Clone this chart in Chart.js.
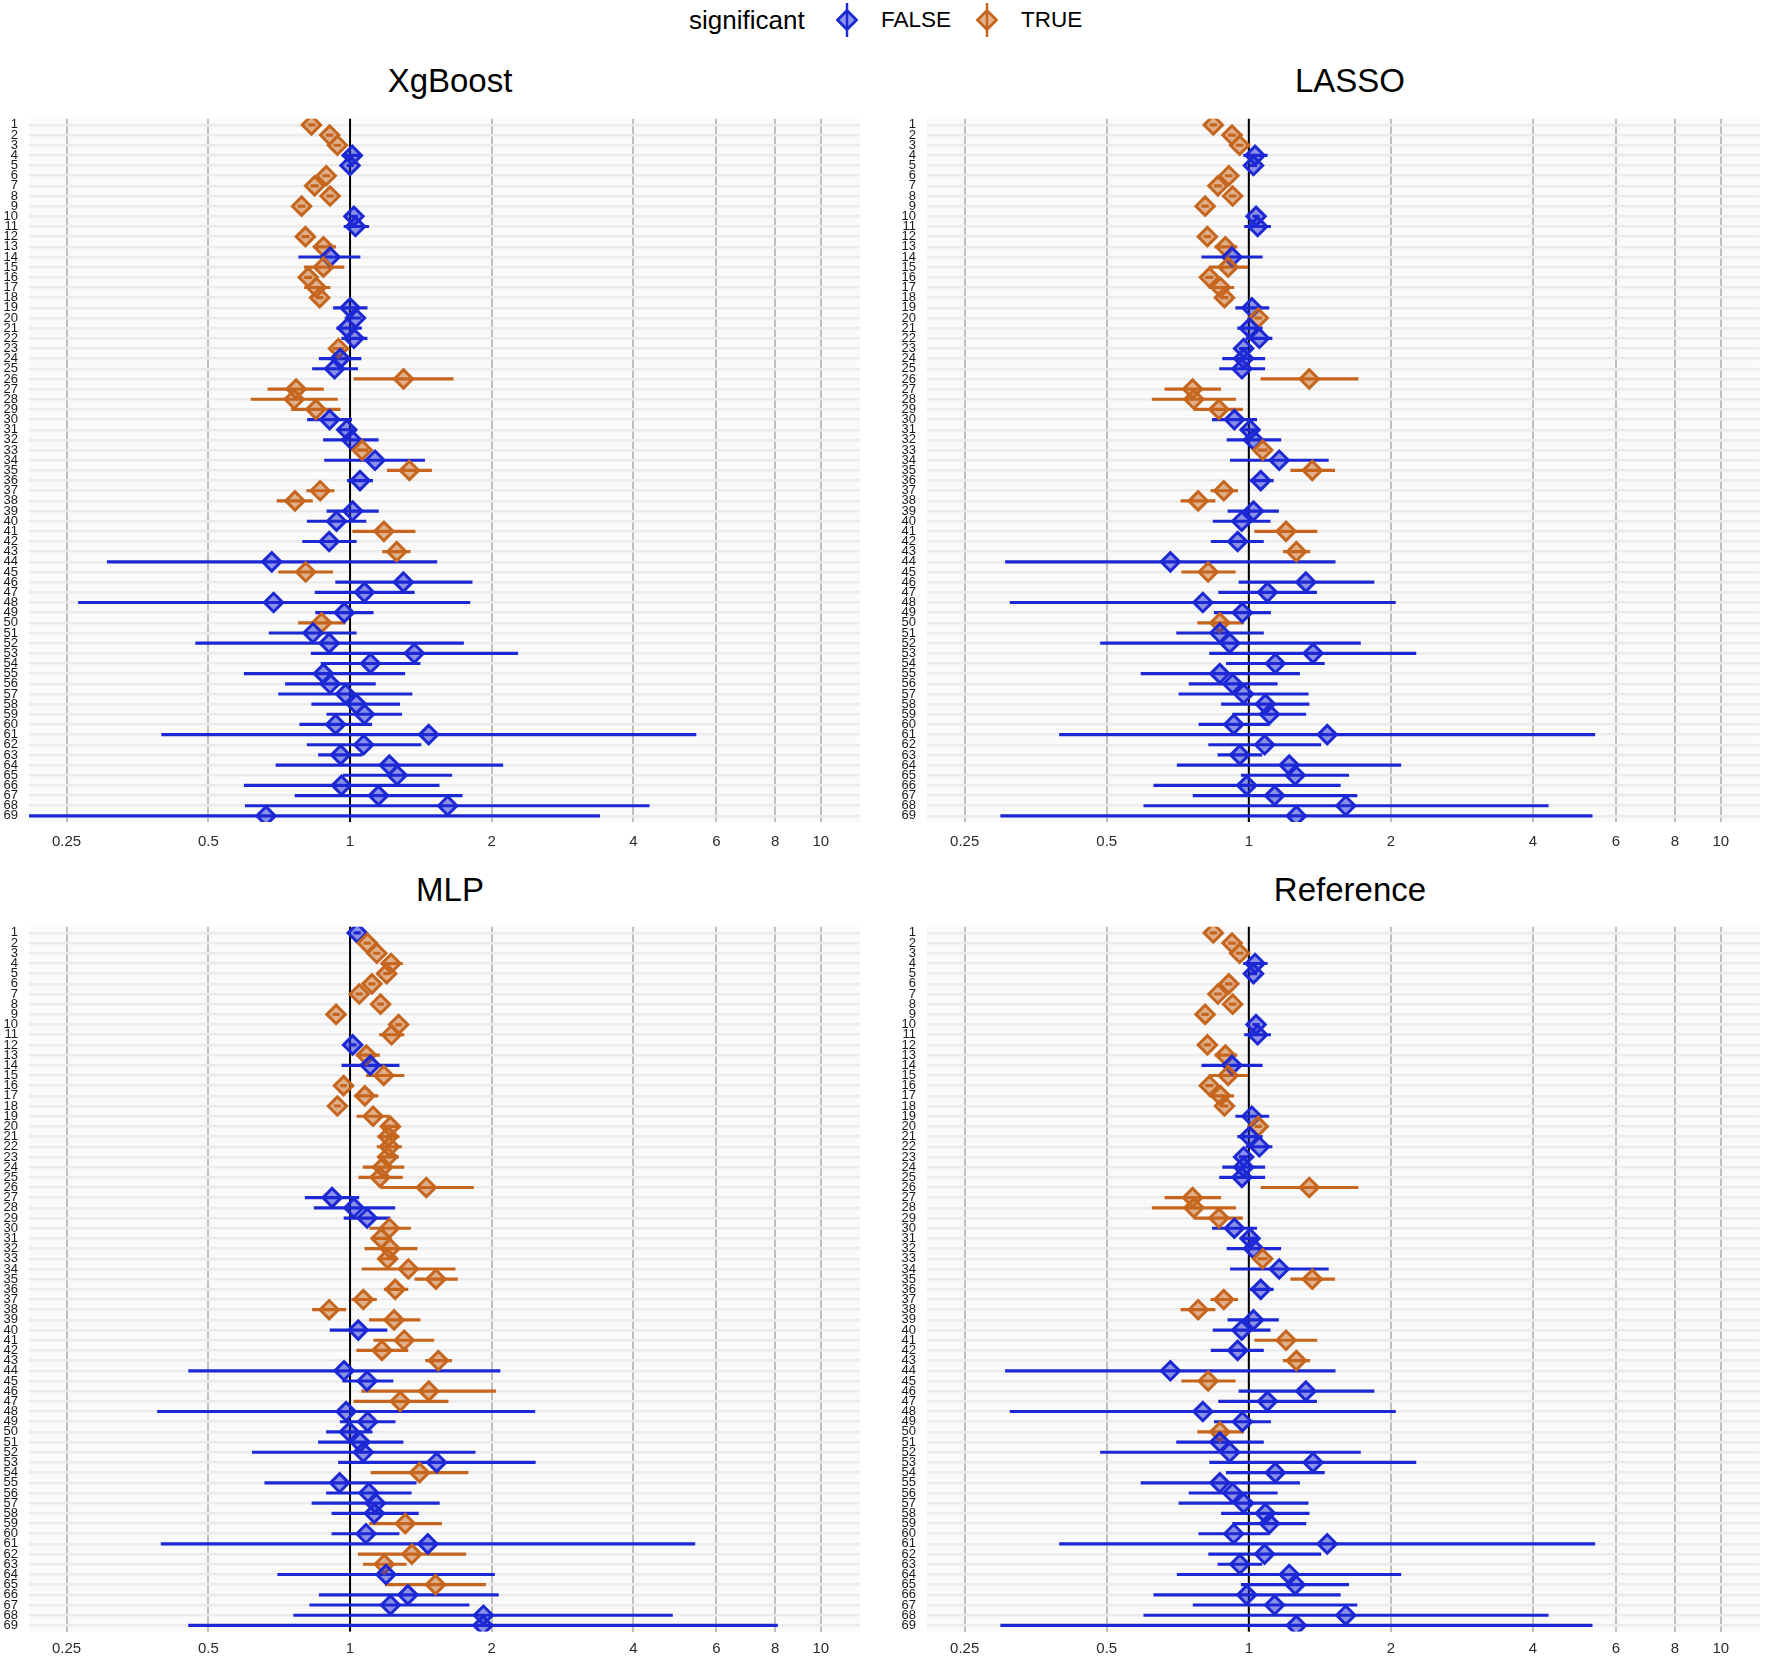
<!DOCTYPE html>
<html>
<head>
<meta charset="utf-8">
<script src="https://cdn.jsdelivr.net/npm/chart.js@4.4.1/dist/chart.umd.min.js"></script>
<style>
  html, body { margin: 0; padding: 0; background: #fff; }
  body { width: 1772px; height: 1658px; position: relative; overflow: hidden; font-family: "Liberation Sans", Arial, sans-serif; color: #000; }
  canvas { position: absolute; }
  .title { position: absolute; font-size: 33px; transform: translate(-50%, -50%); white-space: nowrap; }
  .leg { position: absolute; top: 20px; transform: translateY(-50%); white-space: nowrap; }
  .sym { position: absolute; top: 2px; }
</style>
</head>
<body>

<div class="leg" style="left:689px;font-size:26px;">significant</div>
<svg class="sym" style="left:836px" width="22" height="36" viewBox="0 0 22 36">
  <line x1="11" y1="1" x2="11" y2="35" stroke="rgb(28,40,212)" stroke-width="2.5"/>
  <path d="M1.5 18 L11 8.5 L20.5 18 L11 27.5 Z" fill="rgba(28,40,212,0.5)" stroke="rgb(28,40,212)" stroke-width="2.8"/>
</svg>
<div class="leg" style="left:881px;font-size:22.5px;">FALSE</div>
<svg class="sym" style="left:976px" width="22" height="36" viewBox="0 0 22 36">
  <line x1="11" y1="1" x2="11" y2="35" stroke="rgb(198,102,30)" stroke-width="2.5"/>
  <path d="M1.5 18 L11 8.5 L20.5 18 L11 27.5 Z" fill="rgba(198,102,30,0.5)" stroke="rgb(198,102,30)" stroke-width="2.8"/>
</svg>
<div class="leg" style="left:1021px;font-size:22.5px;">TRUE</div>

<div class="title" style="left:450px;top:81px;">XgBoost</div>
<div class="title" style="left:1350px;top:81px;">LASSO</div>
<div class="title" style="left:450px;top:890px;">MLP</div>
<div class="title" style="left:1350px;top:890px;">Reference</div>

<canvas id="xgb" width="872" height="760" style="left:0;top:100px;"></canvas>
<canvas id="lasso" width="874" height="760" style="left:898px;top:100px;"></canvas>
<canvas id="mlp" width="872" height="750" style="left:0;top:908px;"></canvas>
<canvas id="ref" width="874" height="750" style="left:898px;top:908px;"></canvas>

<script>
// x axis (odds ratio, log scale)
const xTicks = [0.25, 0.5, 1, 2, 4, 6, 8, 10];
const xTickLabels = ['0.25', '0.5', '1', '2', '4', '6', '8', '10'];
const xMin = 0.208, xMax = 12.1;

// rows 1..69
const rowLabels = [];
for (let i = 1; i <= 69; i++) rowLabels.push(i);

// XgBoost
const xgbEst = [0.828,0.905,0.940,1.011,1.000,0.890,0.841,0.907,0.789,1.019,1.027,0.804,0.878,0.907,0.878,0.815,0.848,0.862,1.000,1.027,
  0.987,1.019,0.945,0.953,0.927,1.299,0.768,0.761,0.846,0.905,0.984,1.008,1.061,1.130,1.337,1.050,0.864,0.764,1.013,0.936,
  1.180,0.903,1.256,0.682,0.805,1.298,1.073,0.688,0.972,0.870,0.834,0.903,1.369,1.105,0.878,0.907,0.978,1.031,1.073,0.932,
  1.469,1.069,0.955,1.212,1.259,0.959,1.149,1.612,0.663];
const xgbLow = [0.815,0.890,0.925,0.965,0.985,0.875,0.826,0.892,0.776,1.000,0.971,0.790,0.837,0.778,0.800,0.800,0.800,0.848,0.922,1.000,
  0.937,0.960,0.920,0.860,0.832,1.019,0.669,0.616,0.751,0.812,0.945,0.878,1.035,0.883,1.200,0.987,0.809,0.700,0.893,0.811,
  1.013,0.793,1.173,0.305,0.705,0.932,0.843,0.265,0.845,0.777,0.673,0.470,0.827,0.868,0.596,0.729,0.705,0.829,0.893,0.782,
  0.398,0.811,0.857,0.696,0.967,0.596,0.764,0.599,0.208];
const xgbHigh = [0.842,0.920,0.955,1.046,1.015,0.905,0.856,0.922,0.802,1.038,1.096,0.818,0.932,1.050,0.971,0.830,0.907,0.876,1.087,1.055,
  1.058,1.087,0.970,1.055,1.038,1.656,0.878,0.940,0.953,1.008,1.033,1.148,1.090,1.440,1.490,1.117,0.925,0.832,1.149,1.081,
  1.375,1.031,1.342,1.529,0.919,1.817,1.369,1.797,1.120,0.976,1.031,1.742,2.271,1.409,1.307,1.132,1.354,1.275,1.287,1.112,
  5.430,1.415,1.061,2.111,1.645,1.546,1.730,4.320,3.390];
const xgbSig = [1,1,1,0,0,1,1,1,1,0,0,1,1,0,1,1,1,1,0,0, 0,0,1,0,0,1,1,1,1,0,0,0,1,0,1,0,1,1,0,0,
  1,0,1,0,1,0,0,0,0,1,0,0,0,0,0,0,0,0,0,0, 0,0,0,0,0,0,0,0,0];

// LASSO
const lassoEst = [0.841,0.921,0.956,1.031,1.023,0.907,0.860,0.924,0.808,1.036,1.044,0.817,0.892,0.921,0.904,0.825,0.871,0.888,1.015,1.047,
  1.003,1.053,0.975,0.975,0.967,1.343,0.760,0.765,0.864,0.932,1.006,1.023,1.070,1.160,1.363,1.060,0.885,0.781,1.023,0.966,
  1.199,0.947,1.261,0.682,0.820,1.321,1.095,0.799,0.969,0.868,0.868,0.911,1.368,1.138,0.868,0.924,0.975,1.084,1.106,0.929,
  1.466,1.080,0.957,1.218,1.254,0.990,1.134,1.605,1.261];
const lassoLow = [0.828,0.906,0.940,0.975,1.005,0.892,0.845,0.909,0.795,1.020,0.979,0.804,0.848,0.795,0.824,0.810,0.824,0.873,0.938,1.030,
  0.947,0.986,0.955,0.880,0.867,1.061,0.664,0.624,0.766,0.837,0.962,0.899,1.045,0.914,1.227,1.004,0.831,0.718,0.903,0.840,
  1.029,0.832,1.183,0.305,0.721,0.953,0.863,0.312,0.845,0.779,0.703,0.485,0.826,0.896,0.591,0.747,0.711,0.875,0.924,0.784,
  0.397,0.822,0.860,0.705,0.964,0.629,0.762,0.599,0.298];
const lassoHigh = [0.854,0.936,0.972,1.094,1.040,0.922,0.875,0.939,0.821,1.052,1.112,0.830,0.944,1.068,0.995,0.840,0.929,0.903,1.103,1.064,
  1.068,1.120,0.995,1.081,1.081,1.704,0.872,0.938,0.970,1.039,1.052,1.169,1.095,1.474,1.520,1.127,0.947,0.848,1.156,1.110,
  1.394,1.074,1.347,1.524,0.936,1.842,1.392,2.045,1.112,0.975,1.074,1.724,2.260,1.446,1.281,1.149,1.336,1.342,1.321,1.106,
  5.410,1.421,1.066,2.100,1.628,1.563,1.695,4.310,5.340];
const lassoSig = [1,1,1,0,0,1,1,1,1,0,0,1,1,0,1,1,1,1,0,1, 0,0,0,0,0,1,1,1,1,0,0,0,1,0,1,0,1,1,0,0,
  1,0,1,0,1,0,0,0,0,1,0,0,0,0,0,0,0,0,0,0, 0,0,0,0,0,0,0,0,0];

// MLP
const mlpEst = [1.036,1.088,1.140,1.222,1.196,1.113,1.046,1.161,0.934,1.268,1.225,1.013,1.083,1.104,1.179,0.969,1.075,0.940,1.119,1.218,
  1.206,1.212,1.202,1.173,1.158,1.452,0.916,1.019,1.087,1.212,1.164,1.216,1.202,1.330,1.522,1.247,1.067,0.903,1.240,1.041,
  1.303,1.169,1.540,0.971,1.087,1.470,1.278,0.981,1.090,0.997,1.050,1.067,1.527,1.405,0.950,1.096,1.132,1.126,1.310,1.081,
  1.463,1.353,1.182,1.192,1.519,1.327,1.218,1.920,1.916];
const mlpLow = [1.020,1.072,1.123,1.183,1.178,1.096,1.030,1.144,0.920,1.249,1.155,0.995,1.032,0.961,1.083,0.955,1.024,0.926,1.034,1.180,
  1.146,1.142,1.155,1.066,1.044,1.164,0.803,0.839,0.971,1.101,1.119,1.075,1.160,1.060,1.373,1.182,1.008,0.832,1.099,0.907,
  1.123,1.033,1.447,0.454,0.965,1.058,1.019,0.390,0.953,0.891,0.857,0.620,0.945,1.108,0.659,0.891,0.830,0.915,1.099,0.915,
  0.397,1.041,1.067,0.702,1.188,0.860,0.821,0.759,0.454];
const mlpHigh = [1.052,1.104,1.157,1.292,1.214,1.130,1.062,1.178,0.948,1.287,1.302,1.030,1.155,1.271,1.302,0.983,1.146,0.954,1.212,1.258,
  1.271,1.286,1.268,1.302,1.292,1.829,1.044,1.245,1.216,1.345,1.222,1.388,1.245,1.672,1.691,1.327,1.138,0.979,1.408,1.198,
  1.507,1.327,1.643,2.083,1.234,2.038,1.616,2.469,1.247,1.114,1.296,1.844,2.475,1.781,1.382,1.349,1.548,1.397,1.565,1.271,
  5.400,1.762,1.317,2.027,1.941,2.066,1.790,4.840,8.090];
const mlpSig = [0,1,1,1,1,1,1,1,1,1,1,0,1,0,1,1,1,1,1,1, 1,1,1,1,1,1,0,0,0,1,1,1,1,1,1,1,1,1,1,0,
  1,1,1,0,0,1,1,0,0,0,0,0,0,1,0,0,0,0,1,0, 0,1,1,0,1,0,0,0,0];

// Reference panel carries the same estimates as LASSO
const refEst = lassoEst.slice();
const refLow = lassoLow.slice();
const refHigh = lassoHigh.slice();
const refSig = lassoSig.slice();

const BLUE = 'rgb(28,40,212)', BLUE_FILL = 'rgba(28,40,212,0.5)';
const ORANGE = 'rgb(198,102,30)', ORANGE_FILL = 'rgba(198,102,30,0.5)';

const panelBg = {
  id: 'panelBg',
  beforeDraw(chart) {
    const { ctx, chartArea: a } = chart;
    ctx.save();
    ctx.fillStyle = '#fafafa';
    ctx.fillRect(a.left, a.top, a.right - a.left, a.bottom - a.top);
    ctx.restore();
  }
};

const refLine = {
  id: 'refLine',
  beforeDatasetsDraw(chart) {
    const { ctx, chartArea: a, scales: { x } } = chart;
    const px = x.getPixelForValue(1);
    ctx.save();
    ctx.strokeStyle = '#000';
    ctx.lineWidth = 2;
    ctx.beginPath();
    ctx.moveTo(px, a.top);
    ctx.lineTo(px, a.bottom);
    ctx.stroke();
    ctx.restore();
  }
};

function makePanel(id, est, low, high, sig, padTop, xAxisH, tickPad) {
  const ctx = document.getElementById(id).getContext('2d');
  return new Chart(ctx, {
    type: 'scatter',
    data: {
      datasets: [
        {
          type: 'bar',
          indexAxis: 'y',
          data: est.map((_, i) => ({ y: rowLabels[i], x: [low[i], high[i]] })),
          backgroundColor: sig.map(s => s ? ORANGE : BLUE),
          borderWidth: 0,
          barThickness: 2.5,
          order: 2
        },
        {
          type: 'scatter',
          data: est.map((v, i) => ({ x: v, y: rowLabels[i] })),
          pointStyle: 'rectRot',
          pointRadius: 9.2,
          pointBorderWidth: 3,
          pointBackgroundColor: sig.map(s => s ? ORANGE_FILL : BLUE_FILL),
          pointBorderColor: sig.map(s => s ? ORANGE : BLUE),
          order: 1
        }
      ]
    },
    options: {
      responsive: false,
      animation: false,
      devicePixelRatio: 1,
      events: [],
      layout: { padding: { top: padTop, left: 0, right: 0, bottom: 0 } },
      plugins: { legend: { display: false }, tooltip: { enabled: false } },
      scales: {
        x: {
          type: 'logarithmic',
          min: xMin,
          max: xMax,
          offset: false,
          z: -1,
          afterBuildTicks: s => { s.ticks = xTicks.map(v => ({ value: v })); },
          afterFit: s => { s.height = xAxisH; },
          ticks: {
            autoSkip: false,
            maxRotation: 0,
            padding: tickPad,
            color: '#2b2b2b',
            font: { family: 'Liberation Sans', size: 15 },
            callback: (v, i) => xTickLabels[i]
          },
          grid: { color: '#c0c0c0', lineWidth: 2, drawTicks: false, offset: false },
          border: { display: false }
        },
        y: {
          type: 'linear',
          reverse: true,
          min: 0.4,
          max: 69.6,
          offset: false,
          z: -2,
          afterBuildTicks: s => { s.ticks = rowLabels.map(v => ({ value: v })); },
          afterFit: s => { s.width = 29; },
          ticks: {
            autoSkip: false,
            padding: 11,
            color: '#1a1a1a',
            font: { family: 'Liberation Sans', size: 13 },
            callback: (v, i) => rowLabels[i]
          },
          grid: { color: '#ebebeb', lineWidth: 2.5, drawTicks: false, offset: false },
          border: { display: false }
        }
      }
    },
    plugins: [panelBg, refLine]
  });
}

makePanel('xgb', xgbEst, xgbLow, xgbHigh, xgbSig, 13, 38, 11);
makePanel('lasso', lassoEst, lassoLow, lassoHigh, lassoSig, 13, 38, 11);
makePanel('mlp', mlpEst, mlpLow, mlpHigh, mlpSig, 12.5, 26.5, 8);
makePanel('ref', refEst, refLow, refHigh, refSig, 12.5, 26.5, 8);
</script>
</body>
</html>
